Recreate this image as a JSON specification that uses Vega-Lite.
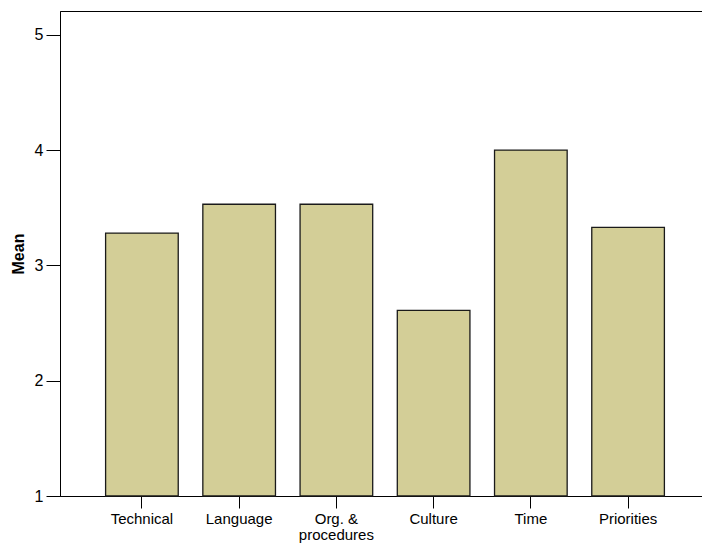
{
  "$schema": "https://vega.github.io/schema/vega-lite/v6.json",
  "autosize": "none",
  "padding": {"left": 60, "top": 11, "right": 0, "bottom": 48},
  "width": 650,
  "height": 485,
  "background": "white",
  "config": {
    "view": {"stroke": "black", "strokeWidth": 1},
    "axis": {
      "domainColor": "black",
      "tickColor": "black",
      "labelColor": "black",
      "titleColor": "black",
      "labelFont": "Liberation Sans",
      "titleFont": "Liberation Sans",
      "grid": false
    }
  },
  "data": {
    "values": [
      {"category": "Technical", "mean": 3.28},
      {"category": "Language", "mean": 3.53},
      {"category": "Org. & procedures", "mean": 3.53},
      {"category": "Culture", "mean": 2.61},
      {"category": "Time", "mean": 4.0},
      {"category": "Priorities", "mean": 3.33}
    ]
  },
  "mark": {"type": "bar", "fill": "#d3ce97", "stroke": "#1a1a1a", "strokeWidth": 1.3},
  "encoding": {
    "x": {
      "field": "category",
      "type": "nominal",
      "sort": null,
      "scale": {"paddingInner": 0.253, "paddingOuter": 0.469},
      "axis": {
        "title": null,
        "labelAngle": 0,
        "tickSize": 12,
        "labelPadding": 3,
        "labelFontSize": 15,
        "labelLineHeight": 16,
        "labelExpr": "datum.label == 'Org. & procedures' ? ['Org. &', 'procedures'] : datum.label"
      }
    },
    "y": {
      "field": "mean",
      "type": "quantitative",
      "scale": {"domain": [1, 5.206], "nice": false, "zero": false},
      "axis": {
        "title": "Mean",
        "values": [1, 2, 3, 4, 5],
        "tickSize": 14,
        "labelPadding": 3,
        "labelFontSize": 16,
        "titleFontSize": 16,
        "titleFontWeight": "bold",
        "titleX": -41.5,
        "titleAlign": "center",
        "titleBaseline": "middle",
        "titleAngle": 270
      }
    },
    "y2": {"datum": 1}
  }
}
